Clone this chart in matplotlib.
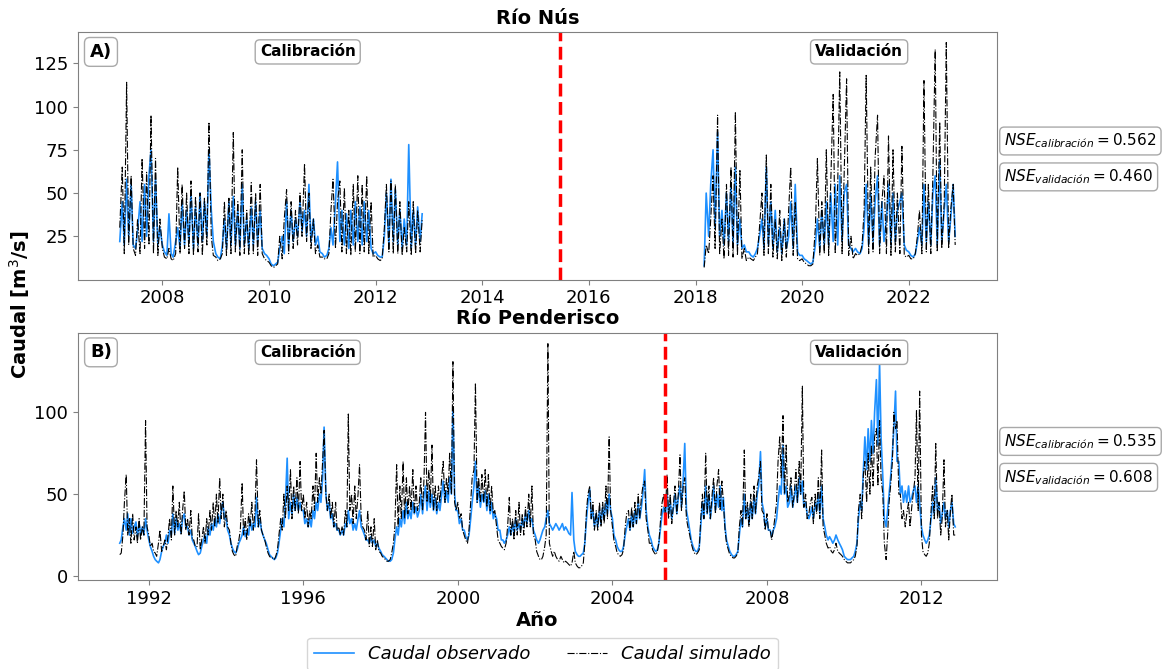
import numpy as np
import pandas as pd
import matplotlib
matplotlib.use("Agg")
import matplotlib.pyplot as plt
import matplotlib.dates as mdates

# semi-monthly readings (1st and 15th of each month)

# Rio Nus - calibration, from 2007-03-15
nus_cal_start = "2007-03-15"
nus_obs_cal = [
    22, 45, 20, 58, 25, 55, 20, 18, 28, 45, 22, 55, 25, 60, 75, 22, 58, 20, 30,  # 2007
    20, 16, 14, 38, 15, 13, 22, 30, 18, 45, 20, 40, 22, 50, 18, 42, 20, 50, 22, 45, 25, 75, 40, 22,  # 2008
    15, 13, 12, 20, 35, 18, 45, 20, 48, 20, 40, 18, 55, 20, 35, 18, 42, 20, 45, 22, 40, 18, 15, 14,  # 2009
    12, 9, 8, 9, 10, 18, 25, 15, 45, 20, 40, 22, 35, 25, 45, 28, 40, 25, 55, 22, 35, 20, 25, 16,  # 2010
    15, 13, 14, 18, 30, 20, 45, 68, 22, 40, 20, 38, 18, 40, 20, 45, 22, 42, 20, 45, 22, 40, 18, 15,  # 2011
    16, 14, 13, 13, 25, 50, 20, 58, 22, 52, 20, 40, 18, 35, 20, 78, 18, 40, 20, 42, 22, 38,  # 2012
]
nus_sim_cal = [
    30, 65, 15, 114, 20, 60, 18, 14, 35, 15, 70, 18, 62, 20, 95, 15, 70, 14, 35,
    18, 13, 12, 18, 12, 11, 15, 65, 15, 55, 18, 50, 15, 57, 14, 48, 16, 50, 14, 47, 20, 91, 25, 14,
    13, 11, 12, 15, 45, 14, 47, 15, 85, 16, 45, 14, 75, 15, 40, 14, 56, 15, 50, 14, 55, 15, 12, 11,
    10, 8, 7, 8, 9, 25, 12, 35, 52, 15, 45, 18, 40, 20, 50, 25, 67, 22, 50, 18, 35, 15, 20, 13,
    13, 12, 12, 15, 40, 58, 18, 45, 57, 16, 53, 15, 40, 14, 55, 16, 60, 15, 55, 16, 60, 15, 45, 13,
    14, 12, 11, 12, 30, 55, 16, 57, 15, 55, 15, 45, 14, 30, 16, 45, 14, 45, 15, 40, 16, 35,
]

# Rio Nus - validation, from 2018-03-01
nus_val_start = "2018-03-01"
nus_obs_val = [
    8, 50, 25, 55, 75, 30, 85, 25, 40, 20, 50, 22, 55, 20, 65, 20, 35, 18, 20, 16,  # 2018
    16, 14, 13, 15, 18, 25, 35, 18, 65, 20, 45, 18, 40, 16, 30, 15, 35, 18, 25, 45, 18, 55, 16, 14,  # 2019
    14, 12, 11, 10, 9, 10, 20, 35, 18, 40, 20, 45, 20, 50, 22, 55, 20, 60, 22, 50, 55, 20, 18, 16,  # 2020
    18, 16, 15, 18, 30, 55, 20, 50, 22, 45, 60, 20, 45, 22, 35, 55, 20, 50, 22, 40, 45, 50, 20, 17,  # 2021
    16, 14, 13, 15, 22, 30, 20, 55, 22, 45, 20, 50, 60, 20, 69, 22, 40, 55, 22, 35, 55, 25,  # 2022
]
nus_sim_val = [
    7, 20, 15, 35, 60, 18, 95, 15, 35, 12, 55, 14, 65, 13, 97, 14, 63, 12, 18, 11,
    13, 12, 11, 13, 15, 30, 50, 14, 72, 15, 55, 13, 35, 12, 40, 11, 35, 13, 40, 65, 14, 45, 12, 11,
    12, 10, 9, 8, 8, 9, 30, 70, 14, 45, 15, 75, 14, 55, 107, 15, 55, 120, 15, 60, 116, 14, 25, 12,
    15, 14, 15, 20, 40, 118, 15, 65, 16, 70, 95, 15, 45, 60, 15, 83, 14, 75, 16, 50, 15, 77, 14, 13,
    14, 12, 12, 15, 25, 40, 15, 115, 16, 55, 15, 60, 133, 16, 91, 18, 45, 137, 18, 40, 55, 20,
]

# Rio Penderisco, from 1991-04-01
pen_start = "1991-04-01"
pen_obs = [
    20, 22, 30, 35, 28, 38, 25, 35, 26, 30, 33, 24, 32, 26, 30, 25, 35, 28,  # 1991
    22, 18, 15, 12, 10, 9, 8, 10, 15, 18, 20, 25, 20, 28, 25, 38, 26, 35, 28, 32, 26, 35, 38, 30,  # 1992
    30, 25, 28, 22, 20, 18, 15, 13, 14, 18, 22, 25, 20, 30, 25, 32, 28, 35, 30, 38, 32, 40, 45, 35,  # 1993
    35, 28, 25, 20, 17, 15, 14, 16, 20, 22, 25, 30, 24, 28, 25, 35, 28, 32, 30, 48, 30, 35, 28, 25,  # 1994
    22, 20, 16, 13, 12, 11, 10, 11, 14, 20, 28, 35, 30, 45, 72, 35, 45, 38, 50, 40, 48, 40, 45, 40,  # 1995
    40, 32, 35, 30, 35, 30, 40, 35, 45, 40, 50, 45, 60, 91, 50, 40, 45, 35, 38, 30, 32, 28, 28, 25,  # 1996
    28, 25, 32, 30, 40, 32, 35, 28, 32, 28, 35, 40, 30, 28, 25, 22, 22, 20, 24, 20, 22, 18, 20, 17,  # 1997
    15, 13, 12, 11, 10, 9, 9, 10, 14, 22, 30, 25, 35, 30, 40, 32, 45, 35, 40, 35, 45, 38, 42, 36,  # 1998
    40, 50, 38, 50, 55, 40, 52, 42, 50, 40, 48, 38, 45, 40, 50, 58, 45, 52, 45, 60, 50, 102, 50, 40,  # 1999
    40, 32, 35, 28, 28, 24, 22, 25, 35, 45, 55, 70, 45, 55, 42, 50, 45, 52, 40, 50, 38, 45, 35, 38,  # 2000
    35, 28, 28, 22, 22, 20, 22, 25, 30, 25, 32, 26, 35, 28, 32, 28, 35, 30, 38, 32, 40, 33, 35, 28,  # 2001
    25, 22, 20, 22, 25, 28, 30, 35, 40, 32, 30, 28, 30, 32, 30, 28, 30, 32, 28, 30, 28, 26, 25, 51,  # 2002
    22, 15, 13, 12, 12, 13, 14, 20, 35, 45, 53, 35, 40, 30, 38, 30, 40, 32, 42, 35, 45, 38, 50, 40,  # 2003
    35, 25, 22, 18, 16, 15, 15, 18, 25, 30, 35, 28, 38, 30, 40, 32, 45, 35, 42, 50, 65, 40, 30, 25,  # 2004
    22, 18, 16, 15, 16, 20, 30, 38, 42, 35, 50, 38, 45, 35, 42, 50, 38, 48, 55, 42, 60, 81, 40, 35,  # 2005
    28, 22, 18, 16, 15, 15, 18, 30, 45, 35, 55, 38, 50, 35, 45, 55, 40, 50, 42, 55, 40, 48, 30, 22,  # 2006
    18, 15, 13, 12, 12, 13, 15, 25, 35, 30, 50, 35, 42, 32, 45, 35, 48, 38, 50, 55, 76, 45, 40, 30,  # 2007
    35, 28, 28, 24, 28, 30, 35, 45, 55, 50, 80, 50, 55, 42, 45, 55, 42, 48, 55, 45, 60, 50, 58, 42,  # 2008
    45, 38, 35, 38, 42, 35, 45, 40, 50, 38, 55, 35, 30, 25, 22, 24, 22, 20, 22, 25, 22, 20, 18, 16,  # 2009
    12, 11, 10, 10, 10, 11, 12, 15, 20, 35, 45, 40, 65, 85, 65, 90, 70, 95, 75, 100, 120, 80, 130, 85,  # 2010
    60, 35, 30, 40, 50, 60, 75, 90, 113, 70, 70, 50, 55, 45, 52, 45, 55, 45, 48, 52, 55, 45, 55, 45,  # 2011
    30, 25, 22, 20, 22, 25, 35, 45, 38, 60, 40, 45, 32, 38, 45, 35, 40, 30, 40, 45, 32, 30,  # 2012
]
pen_sim = [
    13, 14, 25, 45, 62, 25, 35, 20, 38, 22, 30, 20, 35, 22, 30, 25, 95, 30,
    25, 18, 20, 15, 14, 12, 20, 28, 15, 18, 22, 16, 25, 35, 22, 55, 25, 40, 30, 45, 25, 40, 52, 28,
    35, 25, 40, 22, 22, 18, 18, 38, 16, 22, 30, 20, 35, 25, 40, 28, 45, 30, 50, 32, 60, 35, 50, 30,
    40, 30, 28, 20, 15, 13, 12, 18, 22, 28, 57, 25, 35, 22, 38, 30, 45, 28, 40, 71, 30, 40, 28, 25,
    22, 18, 14, 12, 11, 11, 10, 12, 16, 25, 35, 28, 50, 35, 55, 40, 65, 35, 55, 40, 60, 38, 70, 40,
    50, 35, 45, 30, 40, 35, 55, 40, 75, 45, 60, 50, 70, 89, 50, 40, 50, 35, 45, 30, 45, 28, 30, 25,
    30, 25, 40, 30, 99, 40, 50, 32, 55, 35, 50, 68, 35, 30, 28, 22, 40, 18, 30, 18, 35, 16, 22, 15,
    14, 12, 11, 10, 9, 9, 10, 14, 20, 30, 68, 30, 55, 35, 70, 35, 60, 38, 55, 40, 65, 38, 55, 40,
    45, 60, 40, 60, 100, 45, 65, 45, 80, 40, 55, 40, 55, 45, 60, 70, 45, 60, 50, 75, 50, 131, 45, 40,
    45, 35, 38, 28, 25, 22, 20, 28, 45, 60, 65, 118, 45, 60, 45, 62, 45, 65, 42, 62, 40, 55, 38, 40,
    30, 22, 20, 18, 17, 16, 20, 30, 48, 25, 35, 22, 40, 25, 45, 25, 38, 25, 42, 30, 50, 30, 55, 25,
    22, 15, 12, 10, 10, 12, 18, 25, 142, 20, 15, 12, 15, 12, 10, 9, 12, 10, 8, 9, 8, 7, 6, 8,
    15, 8, 6, 5, 5, 6, 8, 20, 40, 50, 55, 35, 45, 28, 40, 28, 45, 30, 45, 32, 55, 35, 85, 40,
    30, 22, 18, 14, 13, 12, 13, 16, 30, 38, 40, 28, 42, 30, 45, 32, 50, 35, 48, 55, 58, 35, 28, 20,
    20, 16, 14, 13, 15, 20, 35, 45, 50, 38, 62, 35, 50, 32, 45, 55, 38, 50, 74, 40, 55, 60, 35, 30,
    25, 20, 16, 14, 13, 14, 16, 35, 50, 35, 75, 38, 55, 35, 50, 60, 38, 55, 65, 40, 58, 45, 28, 20,
    16, 13, 12, 11, 11, 12, 14, 30, 40, 30, 77, 35, 45, 30, 50, 35, 55, 38, 55, 60, 70, 40, 38, 28,
    38, 28, 28, 22, 28, 35, 45, 70, 85, 60, 98, 50, 80, 45, 50, 60, 42, 50, 65, 45, 70, 50, 116, 42,
    50, 35, 38, 45, 48, 32, 50, 38, 60, 35, 77, 30, 25, 20, 17, 18, 15, 14, 16, 20, 15, 14, 13, 12,
    10, 9, 8, 8, 8, 9, 10, 12, 18, 40, 50, 35, 62, 70, 45, 75, 50, 80, 55, 85, 90, 55, 95, 60,
    50, 20, 10, 25, 45, 55, 70, 100, 90, 95, 50, 50, 35, 40, 30, 38, 45, 30, 42, 50, 60, 101, 40, 113,
    25, 15, 13, 12, 14, 20, 40, 55, 35, 81, 35, 45, 25, 35, 71, 30, 40, 22, 40, 50, 25, 25,
]

split_nus = "2015-06-15"
split_pen = "2005-05-08"
nse_nus = [0.562, 0.460]
nse_pen = [0.535, 0.608]

OBS_COLOR = "#1E90FF"


def dates(start, values):
    return pd.date_range(start, periods=len(values), freq="SMS")


def box(ax, x, y, txt, size, ha="center"):
    ax.text(x, y, txt, transform=ax.transAxes, ha=ha, va="center", fontsize=size,
            fontweight="bold", bbox=dict(boxstyle="round,pad=0.3", facecolor="white", edgecolor="darkgrey"))


def nse_boxes(ax, vals):
    for yy, name, v in zip([0.56, 0.415], ["calibración", "validación"], vals):
        ax.text(1.008, yy, r"$NSE_{%s} = %.3f$" % (name, v), transform=ax.transAxes, ha="left", va="center",
                fontsize=11, bbox=dict(boxstyle="round,pad=0.3", facecolor="white", edgecolor="darkgrey"))


def style_axes(ax):
    for sp in ax.spines.values():
        sp.set_color("grey")
    ax.tick_params(axis="both", labelsize=13, color="grey")


fig, (ax1, ax2) = plt.subplots(2, 1, figsize=(11.64, 6.69), dpi=100)
fig.subplots_adjust(left=0.067, right=0.8565, top=0.952, bottom=0.133, hspace=0.214)

# --- Rio Nus ---
ax1.plot(dates(nus_cal_start, nus_obs_cal), nus_obs_cal, color=OBS_COLOR, lw=1.2, label="Caudal observado")
ax1.plot(dates(nus_cal_start, nus_sim_cal), nus_sim_cal, color="black", lw=0.8, ls="-.", label="Caudal simulado")
ax1.plot(dates(nus_val_start, nus_obs_val), nus_obs_val, color=OBS_COLOR, lw=1.2)
ax1.plot(dates(nus_val_start, nus_sim_val), nus_sim_val, color="black", lw=0.8, ls="-.")
ax1.axvline(pd.Timestamp(split_nus), color="red", ls="--", lw=2.5)
ax1.set_ylim(0, 143)
ax1.set_yticks([25, 50, 75, 100, 125])
ax1.xaxis.set_major_locator(mdates.YearLocator(2))
ax1.xaxis.set_major_formatter(mdates.DateFormatter("%Y"))
ax1.set_title("Río Nús", fontsize=14, fontweight="bold")
box(ax1, 0.025, 0.92, "A)", 13)
box(ax1, 0.25, 0.92, "Calibración", 11)
box(ax1, 0.85, 0.92, "Validación", 11)
nse_boxes(ax1, nse_nus)
style_axes(ax1)

# --- Rio Penderisco ---
ax2.plot(dates(pen_start, pen_obs), pen_obs, color=OBS_COLOR, lw=1.2)
ax2.plot(dates(pen_start, pen_sim), pen_sim, color="black", lw=0.8, ls="-.")
ax2.axvline(pd.Timestamp(split_pen), color="red", ls="--", lw=2.5)
ax2.set_ylim(-2.5, 148.8)
ax2.set_yticks([0, 50, 100])
ax2.xaxis.set_major_locator(mdates.YearLocator(4))
ax2.xaxis.set_major_formatter(mdates.DateFormatter("%Y"))
ax2.set_title("Río Penderisco", fontsize=14, fontweight="bold")
ax2.set_xlabel("Año", fontsize=14, fontweight="bold", labelpad=2)
box(ax2, 0.025, 0.92, "B)", 13)
box(ax2, 0.25, 0.92, "Calibración", 11)
box(ax2, 0.85, 0.92, "Validación", 11)
nse_boxes(ax2, nse_pen)
style_axes(ax2)

fig.text(0.017, 0.544, "Caudal [m$^3$/s]", rotation=90, ha="center", va="center",
         fontsize=14, fontweight="bold")

handles, labels = ax1.get_legend_handles_labels()
fig.legend(handles, labels, loc="upper center", bbox_to_anchor=(0.466, 0.06), ncol=2,
           prop={"style": "italic", "size": 13}, columnspacing=2.0, handlelength=2.2)

plt.savefig("out.png", dpi=100)
